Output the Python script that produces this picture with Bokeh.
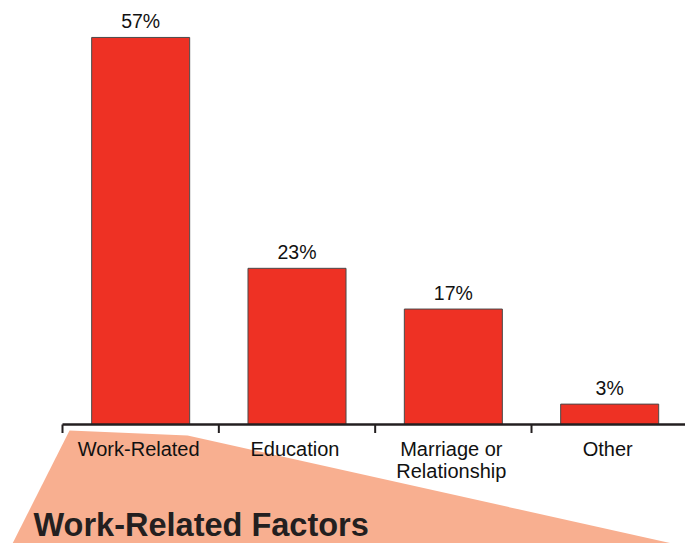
from bokeh.plotting import figure
from bokeh.models import Range1d, ColumnDataSource
from bokeh.core.properties import value
from bokeh.embed import file_html
from bokeh.resources import INLINE

categories = ["Work-Related", "Education", "Marriage or\nRelationship", "Other"]
percents = [57, 23, 17, 3]
pct_labels = ["57%", "23%", "17%", "3%"]
title_text = "Work-Related Factors"

# decorative wedge beneath the axis (data units: x in category slots, y in percent)
wedge_x = [0.045, 0.80, 4.09, -0.341]
wedge_y = [-0.88, -1.62, -18.5, -18.5]

W, H = 685, 543
p = figure(width=W, height=H, output_backend="svg", toolbar_location=None,
           x_range=Range1d(-0.3966, 3.985), y_range=Range1d(-17.526, 62.44),
           min_border=0, min_border_left=0, min_border_right=0,
           min_border_top=0, min_border_bottom=0)
p.axis.visible = False
p.grid.visible = False
p.outline_line_color = None
p.background_fill_color = "white"
p.border_fill_color = "white"

# wedge
p.patch(wedge_x, wedge_y, fill_color="#F8AF90", line_color=None)

n = len(categories)
centers = [i + 0.5 for i in range(n)]
src = ColumnDataSource(dict(x=centers, top=percents, pct=pct_labels, cat=categories))

p.vbar(x="x", top="top", bottom=0, width=0.627, source=src,
       fill_color="#EE3124", line_color="#4a4a4a", line_width=1)

# axis line and boundary ticks
p.segment(x0=[0], y0=[0], x1=[n], y1=[0], line_color="#231F20", line_width=2.6)
bounds = list(range(n))
p.segment(x0=bounds, y0=[0] * n, x1=bounds, y1=[-1.25] * n,
          line_color="#231F20", line_width=2)

# value labels
p.text(x="x", y="top", text="pct", source=src, text_align="center",
       text_baseline="alphabetic", y_offset=-16,
       text_font=value("Liberation Sans"), text_font_size="19.5px",
       text_color="#111111")

# category labels
p.text(x="x", y=0, text="cat", source=src, text_align="center",
       text_baseline="top", y_offset=14, text_line_height=1.0,
       x_offset=-2,
       text_font=value("Liberation Sans"), text_font_size="20px",
       text_color="#111111")

# bottom title
p.text(x=[-0.1855], y=[-16.64], text=[title_text], text_align="left",
       text_baseline="alphabetic", y_offset=-12,
       text_font=value("Liberation Sans"),
       text_font_style="bold", text_font_size="32.5px", text_color="#231F20")

open("out.html", "w").write(file_html(p, INLINE))
